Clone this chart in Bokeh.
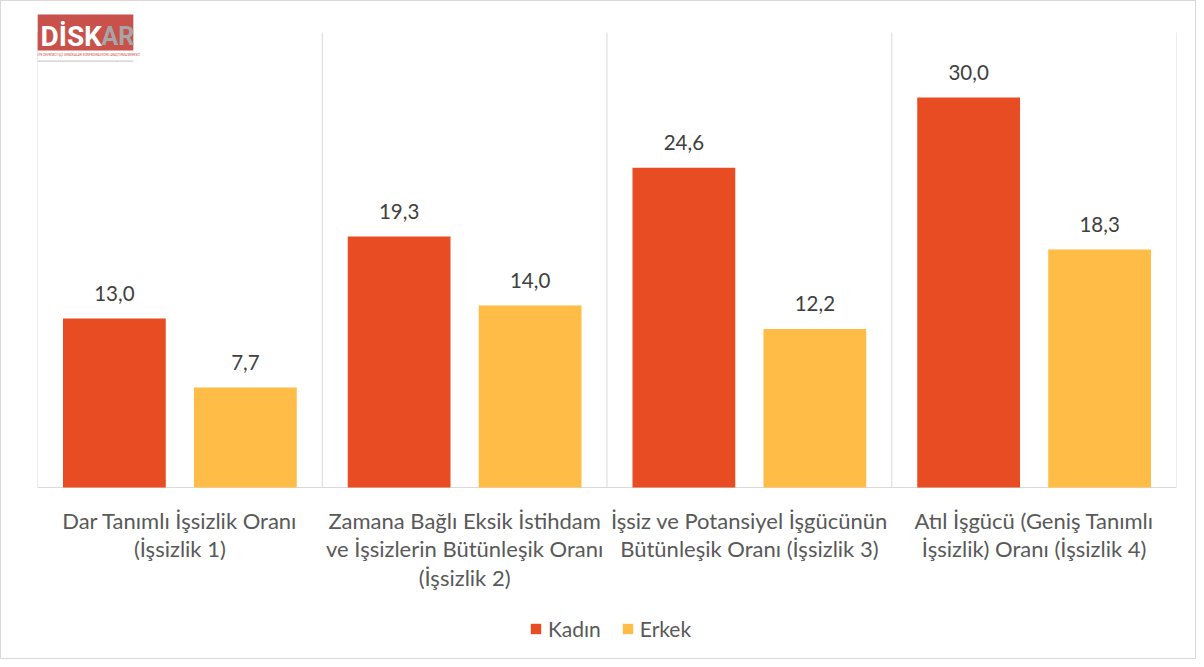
from bokeh.plotting import figure
from bokeh.models import ColumnDataSource, Range1d, Legend, LegendItem
from bokeh.transform import dodge
from bokeh.core.properties import value
from bokeh.embed import file_html
from bokeh.resources import INLINE

# ---- data ----
categories = [
    "Dar Tanımlı İşsizlik Oranı\n(İşsizlik 1)",
    "Zamana Bağlı Eksik İstihdam\nve İşsizlerin Bütünleşik Oranı\n(İşsizlik 2)",
    "İşsiz ve Potansiyel İşgücünün\nBütünleşik Oranı (İşsizlik 3)",
    "Atıl İşgücü (Geniş Tanımlı\nİşsizlik) Oranı (İşsizlik 4)",
]
series_names = ["Kadın", "Erkek"]
kadin = [13.0, 19.3, 24.6, 30.0]
erkek = [7.7, 14.0, 12.2, 18.3]

colors = {"Kadın": "#E84C22", "Erkek": "#FFBD47"}
FONT = "Lato"

n = len(categories)
xc = [i + 0.5 for i in range(n)]
src = ColumnDataSource(dict(
    x=xc,
    cat=categories,
    zero=[0] * n,
    kadin=kadin,
    erkek=erkek,
    kadin_lbl=[f"{v:.1f}".replace(".", ",") for v in kadin],
    erkek_lbl=[f"{v:.1f}".replace(".", ",") for v in erkek],
))

PX_PER_UNIT = 13.0
W, H = 1196, 659
BL, BR = 36, 21
BASE_PX = 486  # pixel row of the zero line
y_top = BASE_PX / PX_PER_UNIT
y_bot = -(H - BASE_PX) / PX_PER_UNIT

p = figure(width=W, height=H, output_backend="svg", toolbar_location=None,
           x_range=Range1d(0, n), y_range=Range1d(y_bot, y_top),
           min_border_left=BL, min_border_right=BR,
           min_border_top=0, min_border_bottom=0)
p.styles = {"border": "1px solid #d9d9d9"}
p.outline_line_color = None
p.background_fill_color = "white"
p.border_fill_color = "white"
p.xgrid.visible = False
p.ygrid.visible = False
p.xaxis.visible = False
p.yaxis.visible = False

# category separators and baseline
sep_x = list(range(n + 1))
p.segment(x0=sep_x, x1=sep_x, y0=[0] * len(sep_x), y1=[35] * len(sep_x),
          line_color="#d9d9d9", line_width=1)
p.segment(x0=[0], x1=[n], y0=[0], y1=[0], line_color="#d9d9d9", line_width=1)

bw = 0.361
off = 0.23
r1 = p.vbar(x=dodge("x", -off, range=p.x_range), top="kadin", width=bw,
            source=src, fill_color=colors["Kadın"], line_color=None)
r2 = p.vbar(x=dodge("x", off, range=p.x_range), top="erkek", width=bw,
            source=src, fill_color=colors["Erkek"], line_color=None)

for col, off_ in (("kadin", -off), ("erkek", off)):
    p.text(x=dodge("x", off_, range=p.x_range), y=col, text=col + "_lbl", source=src,
           text_font=value(FONT), text_font_size="20.5px", text_color="#404040",
           text_align="center", text_baseline="middle", y_offset=-25)

# category labels
p.text(x="x", y="zero", text="cat", source=src, text_font=value(FONT),
       text_font_size="22px", text_color="#595959", text_align="center",
       text_baseline="top", text_line_height=1.06, y_offset=19)

# logo (decoration)
p.rect(x=[0.168], y=[35.0], width=0.337, height=2.77,
       fill_color="#C9514B", line_color=None)
p.text(x=[0.0105], y=[34.69], text=["DİSK"], text_font=value("Roboto"),
       text_font_style="bold", text_font_size="28px", text_color="white",
       text_baseline="middle", text_align="left")
p.text(x=[0.2246], y=[34.69], text=["AR"], text_font=value("Roboto"),
       text_font_style="bold", text_font_size="25px", text_color="#A6A6A6",
       text_baseline="middle", text_align="left")
p.text(x=[0.168], y=[33.3], text=["TÜRKİYE DEVRİMCİ İŞÇİ SENDİKALARI KONFEDERASYONU ARAŞTIRMA MERKEZİ"],
       text_font=value("Roboto"), text_font_size="3px", text_color="#C9514B",
       text_baseline="middle", text_align="center")
p.segment(x0=[0], x1=[0.337], y0=[32.8], y1=[32.8], line_color="#BFBFBF", line_width=1)

legend = Legend(items=[LegendItem(label=series_names[0], renderers=[r1]),
                       LegendItem(label=series_names[1], renderers=[r2])],
                orientation="horizontal", location=(492, 19),
                label_text_font=FONT, label_text_font_size="21px",
                label_text_color="#595959", glyph_width=13, glyph_height=13,
                spacing=20, label_standoff=6, border_line_color=None,
                background_fill_alpha=0, margin=0, padding=0)
p.add_layout(legend, "center")

open("out.html", "w").write(file_html(p, INLINE))
